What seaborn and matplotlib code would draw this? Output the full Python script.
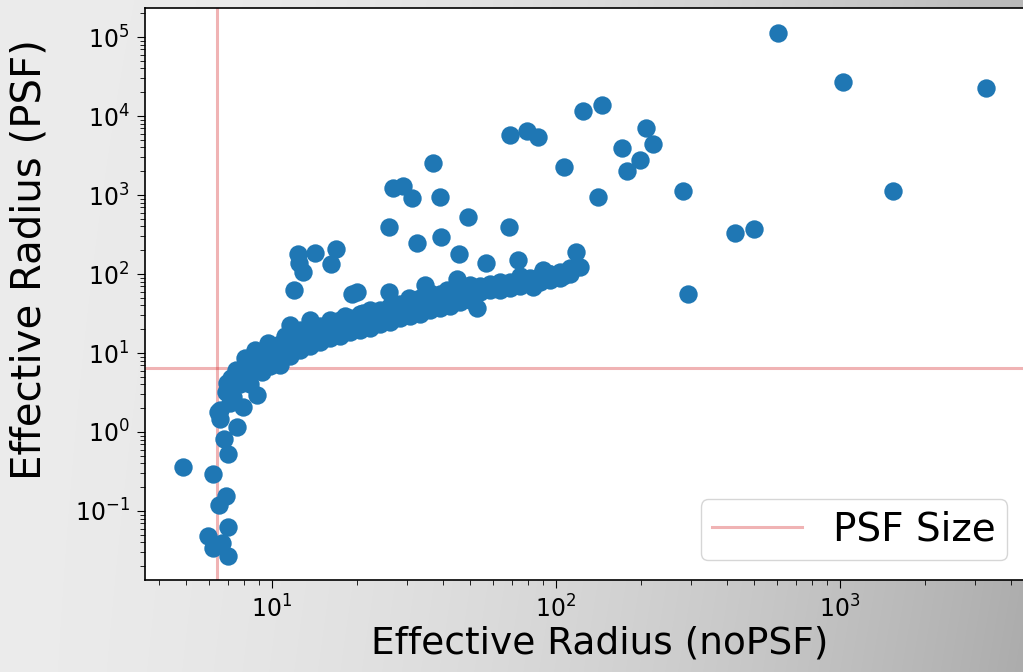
import numpy as np
import pandas as pd
import matplotlib
matplotlib.use("Agg")
import matplotlib.pyplot as plt
from matplotlib.ticker import NullFormatter
import seaborn as sns

# ---- data ----
# outliers / scattered points
out_x = [11.95, 12.35, 12.45, 12.86, 14.2, 16.8, 16.1, 19.9, 19.2,
         25.8, 26.7, 28.9, 31.1, 36.9, 39.1, 32.4, 39.4, 49.0, 45.5, 56.7,
         68.4, 73.5, 25.8, 30.4, 34.6, 44.8, 117.5, 121.5,
         68.9, 79.0, 86.5, 124.5, 145.3, 106.7, 140.6, 170.7, 177.8, 197.6,
         207.5, 219.6, 280.0, 426.6, 497.7, 291.7, 605.0, 1026.0, 3266.0, 1538.0,
         95.0, 103.0, 106.0, 90.0, 83.0, 56.3, 52.7,
         11.6, 13.6, 16.4, 20.9, 26.0]
out_y = [62.7, 179, 138, 106, 184, 207, 134, 59.1, 56.0,
         394, 1230, 1300, 917, 2540, 944, 247, 294, 527, 179, 138,
         394, 150, 59.1, 49.7, 72.6, 86.4, 190, 123,
         5740, 6460, 5420, 11560, 13800, 2260, 944, 3940, 2010, 2770,
         7050, 4420, 1125, 330, 371, 55.8, 112000, 26900, 22600, 1110,
         100, 97, 94, 112, 68.4, 68.4, 37.1,
         22.6, 26.2, 21.4, 32.0, 28.6]

# low-radius tail
low_x = [4.86, 6.2, 6.89, 6.5, 7.0, 5.96, 6.2, 6.67, 7.0, 6.78, 7.0, 6.56,
         7.53, 7.0, 6.45, 8.85, 7.9, 7.3, 8.37, 6.95, 6.56, 7.1, 6.9]
low_y = [0.36, 0.294, 0.155, 0.119, 0.063, 0.048, 0.034, 0.039, 0.027, 0.81,
         0.53, 1.46, 1.16, 3.94, 1.79, 2.94, 2.07, 2.77, 5.58, 4.17, 1.9, 2.3, 3.2]

# main band
band_x = [7.72, 7.72, 8.03, 8.03, 8.37, 8.37, 8.71, 8.71, 9.07, 9.07, 9.07,
          9.45, 9.45, 9.84, 9.84, 9.84, 10.25, 10.25, 10.67, 10.67, 10.67,
          11.11, 11.11, 11.57, 11.57, 11.57, 12.05, 12.05, 12.55, 12.55, 12.55,
          13.61, 13.61, 13.61, 14.76, 14.76, 14.76, 16.0, 16.0, 16.0,
          17.36, 17.36, 17.36, 18.82, 18.82, 18.82, 20.41, 20.41, 20.41,
          22.14, 22.14, 22.14, 24.01, 24.01, 24.01, 26.03, 26.03, 26.03,
          28.23, 28.23, 28.23, 30.61, 30.61, 30.61, 33.2, 33.2, 33.2,
          36.0, 36.0, 36.0, 39.04, 39.04, 39.04, 42.35, 42.35, 42.35,
          45.92, 45.92, 45.92, 49.8, 49.8, 49.8, 54.0, 54.0, 58.56, 58.56,
          63.5, 63.5, 68.87, 68.87, 74.67, 74.67, 81.0, 81.0, 87.8, 87.8,
          95.3, 95.3, 103.3, 103.3, 112.0, 112.0,
          16.0, 18.1, 22.14, 27.1, 36.0, 41.3, 49.8, 63.5, 74.67,
          12.55, 11.11, 9.7, 8.71, 8.03, 7.46, 7.2, 8.37, 9.25, 10.67]
band_y = [5.75, 4.05, 6.84, 4.83, 7.69, 5.58, 8.65, 6.09, 10.3, 7.26, 8.9,
          10.9, 8.15, 11.6, 8.65, 6.84, 12.3, 9.16, 13.0, 10.3, 8.15,
          14.6, 10.9, 15.5, 11.6, 9.16, 16.4, 12.3, 17.4, 13.8, 10.9,
          19.5, 15.5, 12.3, 22.0, 17.4, 13.8, 23.3, 19.5, 15.5,
          26.2, 20.7, 16.4, 27.7, 22.6, 18.4, 31.2, 24.7, 19.5,
          33.0, 26.2, 20.7, 35.0, 29.4, 23.3, 39.4, 31.2, 24.7,
          41.7, 33.0, 27.7, 44.2, 37.1, 29.4, 49.7, 39.4, 31.2,
          52.7, 41.7, 35.0, 55.8, 46.9, 37.1, 59.1, 49.7, 39.4,
          62.7, 52.7, 44.2, 66.5, 55.8, 46.9, 70.5, 59.1, 74.7, 62.7,
          74.7, 62.7, 79.2, 66.5, 84.0, 70.5, 89.0, 74.7, 94.4, 79.2,
          100.0, 84.0, 106.0, 89.0, 119.0, 100.0,
          26.2, 29.4, 35.0, 41.7, 57.4, 62.7, 72.6, 79.2, 94.4,
          19.5, 16.4, 13.4, 10.9, 8.65, 6.09, 4.83, 4.05, 5.75, 7.05]

psf_size = 6.4
x_label = "Effective Radius (noPSF)"
y_label = "Effective Radius (PSF)"
legend_label = "PSF Size"
x_limits = (3.575, 4550)
y_limits = (0.0134, 232800)
x_ticks = [1e1, 1e2, 1e3]
y_ticks = [1e-1, 1e0, 1e1, 1e2, 1e3, 1e4, 1e5]

df = pd.DataFrame({
    "noPSF": out_x + low_x + band_x,
    "PSF": out_y + low_y + band_y,
})

# ---- figure ----
plt.rcParams["font.family"] = ["DejaVu Sans"]
W, H = 1023, 672
fig = plt.figure(figsize=(W / 100, H / 100), dpi=100)

# soft grey vignette background (pixel image behind everything)
gx, gy = np.meshgrid(np.linspace(0, 1, W), np.linspace(0, 1, H))
shade = 0.925 - 0.20 * gx ** 2 - 0.05 * gx * gy
fig.figimage(np.dstack([shade, shade, shade]), xo=0, yo=0, origin="upper",
             zorder=-10)

ax = fig.add_axes([0.1417, 0.137, 0.862, 0.851], zorder=1)
ax.set_facecolor("white")

sns.scatterplot(data=df, x="noPSF", y="PSF", ax=ax, color="#1f77b4",
                s=175, linewidth=0, legend=False, zorder=3)

ax.set_xscale("log")
ax.set_yscale("log")
ax.set_xticks(x_ticks)
ax.set_yticks(y_ticks)
ax.set_xlim(*x_limits)
ax.set_ylim(*y_limits)
ax.xaxis.set_minor_formatter(NullFormatter())
ax.yaxis.set_minor_formatter(NullFormatter())

ax.axvline(psf_size, color="tab:red", alpha=0.35, lw=2.2, zorder=2)
ax.axhline(psf_size, color="tab:red", alpha=0.35, lw=2.2, zorder=2,
           label=legend_label)

ax.set_xlabel(x_label, fontsize=27)
ax.set_ylabel(y_label, fontsize=29)
ax.xaxis.set_label_coords(0.516, -0.08)
ax.yaxis.set_label_coords(-0.108, 0.56)
ax.tick_params(axis="both", which="major", labelsize=17, length=6, pad=5,
               direction="out", color="black")
ax.tick_params(axis="both", which="minor", length=3.5, direction="out")
for sp in ax.spines.values():
    sp.set_color("black")
    sp.set_linewidth(1.2)

leg = ax.legend(loc="lower right", fontsize=28, frameon=True,
                fancybox=True, framealpha=0.8, edgecolor="#cccccc",
                handlelength=2.3, borderpad=0.3)

fig.savefig("out.png", dpi=100)
